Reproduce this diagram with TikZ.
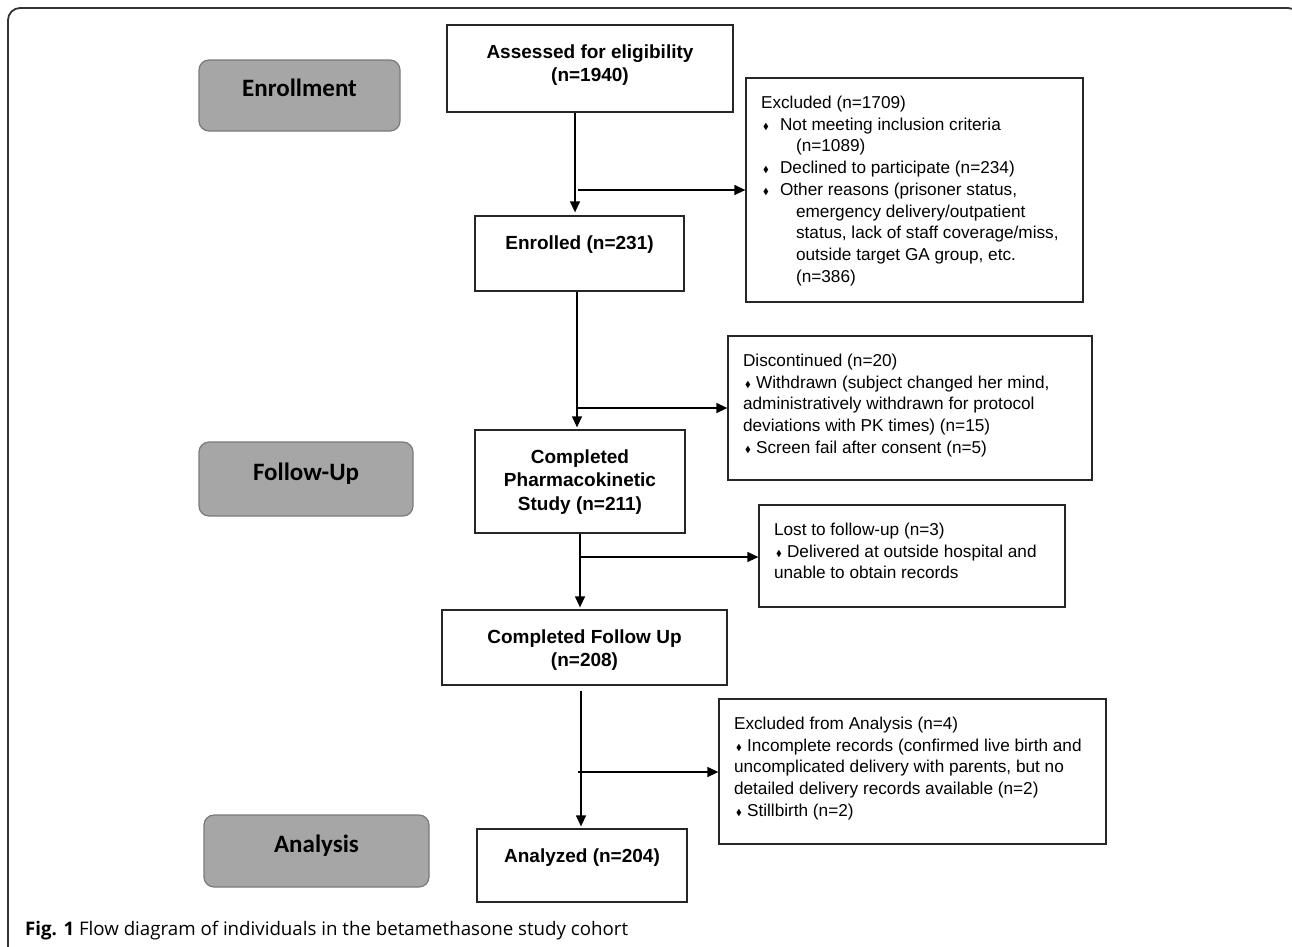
\documentclass[tikz,border=0pt]{standalone}
\usepackage{amssymb}
\usepackage{fontspec}
\setmainfont{Liberation Sans}
\newfontfamily\phasefont{Carlito}
\newfontfamily\capfont{Open Sans}
\usetikzlibrary{arrows.meta}
\newcommand{\dmd}{\raisebox{1pt}{\scalebox{0.5}{$\blacklozenge$}}}

\begin{document}
\begin{tikzpicture}[x=1pt,y=-1pt,
	mainbox/.style={draw=black!85,line width=1.3pt,inner sep=0pt},
	sidebox/.style={draw=black!85,line width=1.3pt,inner sep=0pt},
	maintext/.style={anchor=north,inner sep=0pt,align=center,yshift=-20pt,font=\fontsize{19}{23.5}\selectfont\bfseries},
	sidetext/.style={anchor=north west,inner sep=0pt,align=left,xshift=15.5pt,yshift=-18.5pt,font=\fontsize{17.2}{21.7}\selectfont},
	phase/.style={draw=black!52,fill=black!35,line width=1.2pt,rounded corners=10pt,inner sep=0pt,text height=16pt,text depth=13.4pt,font=\phasefont\bfseries\fontsize{25}{30}\selectfont},
	arr/.style={line width=1.3pt,-{Triangle[length=11pt,width=10pt]}}]
\useasboundingbox (0,0) rectangle (1292,946);
\begin{scope}
\clip (0,0) rectangle (1292,946);
\draw[black!80,line width=1.8pt,rounded corners=12pt] (8,8) rectangle (1300,990);
\end{scope}
\draw (299.5,95.5) node[phase,minimum width=201pt,minimum height=71pt] (enrl) {Enrollment};
\draw (306,479) node[phase,minimum width=214pt,minimum height=74pt] (fup) {Follow-Up};
\draw (316.5,851) node[phase,minimum width=225pt,minimum height=72pt] (anl) {Analysis};
	\draw (590,68.5) node[mainbox,minimum width=286pt,minimum height=87pt,label={[maintext]north:Assessed for eligibility\\(n=1940)}] (assess) {};
	\draw (579.5,253.5) node[mainbox,minimum width=209pt,minimum height=75pt,label={[maintext]north:Enrolled (n=231)}] (enrol) {};
	\draw (580,481.5) node[mainbox,minimum width=210pt,minimum height=103pt,label={[maintext]north:Completed\\Pharmacokinetic\\Study (n=211)}] (pk) {};
	\draw (584.5,647.5) node[mainbox,minimum width=285pt,minimum height=75pt,label={[maintext]north:Completed Follow Up\\(n=208)}] (fu) {};
	\draw (582,865.5) node[mainbox,minimum width=210pt,minimum height=73pt,label={[maintext]north:Analyzed (n=204)}] (an) {};
\draw (914.5,190) node[sidebox,minimum width=337pt,minimum height=224pt,label={[sidetext]north west:{Excluded (n=1709)\\
\makebox[19pt][l]{\hspace*{2pt}\dmd}Not meeting inclusion criteria\\
\hspace*{35pt}(n=1089)\\
\makebox[19pt][l]{\hspace*{2pt}\dmd}Declined to participate (n=234)\\
\makebox[19pt][l]{\hspace*{2pt}\dmd}Other reasons (prisoner status,\\
\hspace*{35pt}emergency delivery/outpatient\\
\hspace*{35pt}status, lack of staff coverage/miss,\\
\hspace*{35pt}outside target GA group, etc.\\
\hspace*{35pt}(n=386)}}] (excl) {};
\draw (910,408) node[sidebox,minimum width=364pt,minimum height=144pt,label={[sidetext]north west:{Discontinued (n=20)\\
\makebox[13pt][l]{\hspace*{2pt}\dmd}Withdrawn (subject changed her mind,\\
administratively withdrawn for protocol\\
deviations with PK times) (n=15)\\
\makebox[13pt][l]{\hspace*{2pt}\dmd}Screen fail after consent (n=5)}}] (disc) {};
\draw (912,556) node[sidebox,minimum width=306pt,minimum height=102pt,label={[sidetext]north west:{Lost to follow-up (n=3)\\
\makebox[13pt][l]{\hspace*{2pt}\dmd}Delivered at outside hospital and\\
unable to obtain records}}] (lost) {};
\draw (912.5,771.5) node[sidebox,minimum width=387pt,minimum height=145pt,label={[sidetext]north west:{Excluded from Analysis (n=4)\\
\makebox[13pt][l]{\hspace*{2pt}\dmd}Incomplete records (confirmed live birth and\\
uncomplicated delivery with parents, but no\\
detailed delivery records available (n=2)\\
\makebox[13pt][l]{\hspace*{2pt}\dmd}Stillbirth (n=2)}}] (exa) {};
	\draw[arr,shorten >=3pt] ([xshift=-15pt]assess.south) -- ([xshift=-4.5pt]enrol.north);
	\coordinate (b1) at (578,190);
	\draw[arr] (b1) -- (b1 -| excl.west);
	\draw[arr,shorten >=2pt] ([xshift=-2.5pt]enrol.south) -- ([xshift=-3pt]pk.north);
	\coordinate (b2) at (578,408);
	\draw[arr] (b2) -- (b2 -| disc.west);
	\draw[arr,shorten >=2pt] (pk.south) -- (pk.south |- fu.north);
	\coordinate (b3) at (580,557);
	\draw[arr] (b3) -- (b3 -| lost.west);
	\draw[arr,shorten >=2pt] ([xshift=-3.5pt,yshift=-5pt]fu.south) -- ([xshift=-1pt]an.north);
	\coordinate (b4) at (578,772);
	\draw[arr] (b4) -- (b4 -| exa.west);
\draw (25,935) node[anchor=base west,inner sep=0pt,font=\capfont\fontsize{18.7}{22}\selectfont] (cap) {\textbf{Fig. 1} Flow diagram of individuals in the betamethasone study cohort};
\end{tikzpicture}
\end{document}
